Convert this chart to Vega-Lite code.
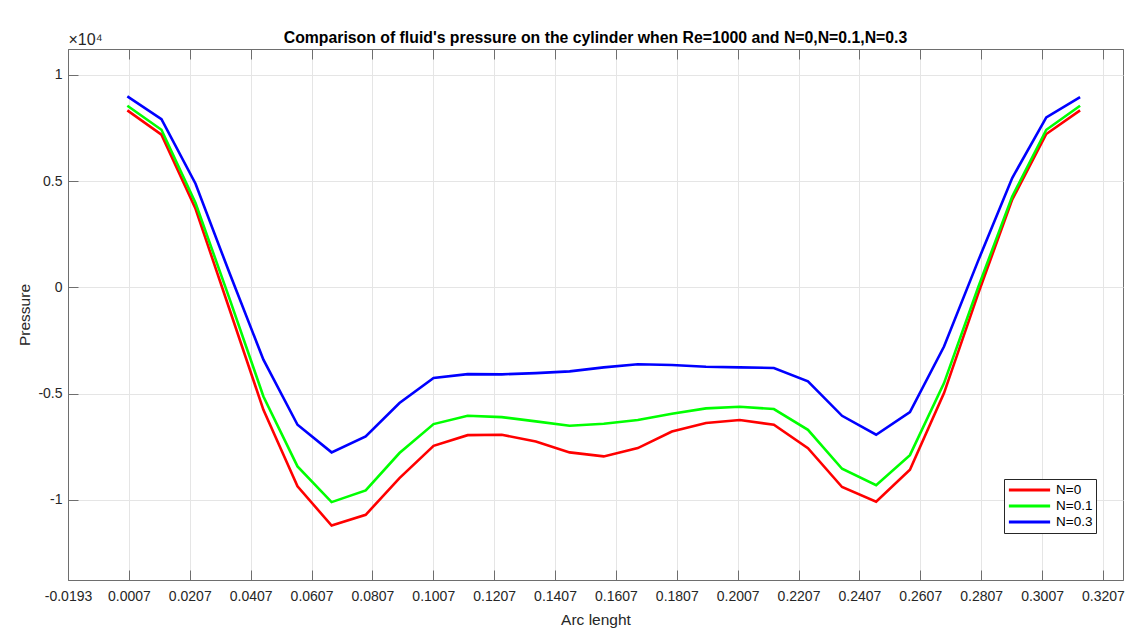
{
  "$schema": "https://vega.github.io/schema/vega-lite/v6.json",
  "autosize": {"type": "none"},
  "width": 1055,
  "height": 531,
  "padding": {"left": 68, "top": 49, "right": 2, "bottom": 50},
  "background": "white",
  "title": {
    "text": "Comparison of fluid's pressure on the cylinder when Re=1000 and N=0,N=0.1,N=0.3",
    "font": "Liberation Sans",
    "fontSize": 15.8,
    "fontWeight": "bold",
    "color": "#000000",
    "anchor": "middle",
    "offset": -16
  },
  "config": {
    "font": "Liberation Sans",
    "view": {"stroke": "#6e6e6e", "strokeWidth": 1},
    "axis": {
      "domainColor": "#6e6e6e",
      "tickColor": "#6e6e6e",
      "gridColor": "#e5e5e5",
      "labelColor": "#262626",
      "titleColor": "#262626",
      "labelFont": "Liberation Sans",
      "titleFont": "Liberation Sans",
      "labelFontSize": 14,
      "titleFontSize": 15.5,
      "titleFontWeight": "normal"
    }
  },
  "data": {
    "values": [
      {"s": "N=0", "x": 0.0002, "p": 8330},
      {"s": "N=0", "x": 0.0114, "p": 7190},
      {"s": "N=0", "x": 0.0226, "p": 3700},
      {"s": "N=0", "x": 0.0337, "p": -1000},
      {"s": "N=0", "x": 0.0449, "p": -5760},
      {"s": "N=0", "x": 0.0561, "p": -9360},
      {"s": "N=0", "x": 0.0673, "p": -11200},
      {"s": "N=0", "x": 0.0785, "p": -10700},
      {"s": "N=0", "x": 0.0896, "p": -8970},
      {"s": "N=0", "x": 0.1008, "p": -7450},
      {"s": "N=0", "x": 0.1120, "p": -6950},
      {"s": "N=0", "x": 0.1232, "p": -6930},
      {"s": "N=0", "x": 0.1344, "p": -7250},
      {"s": "N=0", "x": 0.1455, "p": -7760},
      {"s": "N=0", "x": 0.1567, "p": -7950},
      {"s": "N=0", "x": 0.1679, "p": -7560},
      {"s": "N=0", "x": 0.1791, "p": -6780},
      {"s": "N=0", "x": 0.1903, "p": -6380},
      {"s": "N=0", "x": 0.2014, "p": -6240},
      {"s": "N=0", "x": 0.2126, "p": -6460},
      {"s": "N=0", "x": 0.2238, "p": -7560},
      {"s": "N=0", "x": 0.2350, "p": -9390},
      {"s": "N=0", "x": 0.2462, "p": -10080},
      {"s": "N=0", "x": 0.2573, "p": -8580},
      {"s": "N=0", "x": 0.2685, "p": -4970},
      {"s": "N=0", "x": 0.2797, "p": -300},
      {"s": "N=0", "x": 0.2909, "p": 4130},
      {"s": "N=0", "x": 0.3021, "p": 7220},
      {"s": "N=0", "x": 0.3132, "p": 8330},
      {"s": "N=0.1", "x": 0.0002, "p": 8550},
      {"s": "N=0.1", "x": 0.0114, "p": 7420},
      {"s": "N=0.1", "x": 0.0226, "p": 3970},
      {"s": "N=0.1", "x": 0.0337, "p": -500},
      {"s": "N=0.1", "x": 0.0449, "p": -5130},
      {"s": "N=0.1", "x": 0.0561, "p": -8420},
      {"s": "N=0.1", "x": 0.0673, "p": -10100},
      {"s": "N=0.1", "x": 0.0785, "p": -9550},
      {"s": "N=0.1", "x": 0.0896, "p": -7790},
      {"s": "N=0.1", "x": 0.1008, "p": -6430},
      {"s": "N=0.1", "x": 0.1120, "p": -6040},
      {"s": "N=0.1", "x": 0.1232, "p": -6100},
      {"s": "N=0.1", "x": 0.1344, "p": -6300},
      {"s": "N=0.1", "x": 0.1455, "p": -6510},
      {"s": "N=0.1", "x": 0.1567, "p": -6410},
      {"s": "N=0.1", "x": 0.1679, "p": -6240},
      {"s": "N=0.1", "x": 0.1791, "p": -5940},
      {"s": "N=0.1", "x": 0.1903, "p": -5690},
      {"s": "N=0.1", "x": 0.2014, "p": -5610},
      {"s": "N=0.1", "x": 0.2126, "p": -5720},
      {"s": "N=0.1", "x": 0.2238, "p": -6700},
      {"s": "N=0.1", "x": 0.2350, "p": -8530},
      {"s": "N=0.1", "x": 0.2462, "p": -9300},
      {"s": "N=0.1", "x": 0.2573, "p": -7890},
      {"s": "N=0.1", "x": 0.2685, "p": -4500},
      {"s": "N=0.1", "x": 0.2797, "p": 0},
      {"s": "N=0.1", "x": 0.2909, "p": 4280},
      {"s": "N=0.1", "x": 0.3021, "p": 7420},
      {"s": "N=0.1", "x": 0.3132, "p": 8550},
      {"s": "N=0.3", "x": 0.0002, "p": 8990},
      {"s": "N=0.3", "x": 0.0114, "p": 7920},
      {"s": "N=0.3", "x": 0.0226, "p": 4880},
      {"s": "N=0.3", "x": 0.0337, "p": 700},
      {"s": "N=0.3", "x": 0.0449, "p": -3400},
      {"s": "N=0.3", "x": 0.0561, "p": -6460},
      {"s": "N=0.3", "x": 0.0673, "p": -7760},
      {"s": "N=0.3", "x": 0.0785, "p": -7010},
      {"s": "N=0.3", "x": 0.0896, "p": -5440},
      {"s": "N=0.3", "x": 0.1008, "p": -4260},
      {"s": "N=0.3", "x": 0.1120, "p": -4080},
      {"s": "N=0.3", "x": 0.1232, "p": -4090},
      {"s": "N=0.3", "x": 0.1344, "p": -4030},
      {"s": "N=0.3", "x": 0.1455, "p": -3950},
      {"s": "N=0.3", "x": 0.1567, "p": -3760},
      {"s": "N=0.3", "x": 0.1679, "p": -3610},
      {"s": "N=0.3", "x": 0.1791, "p": -3650},
      {"s": "N=0.3", "x": 0.1903, "p": -3730},
      {"s": "N=0.3", "x": 0.2014, "p": -3760},
      {"s": "N=0.3", "x": 0.2126, "p": -3790},
      {"s": "N=0.3", "x": 0.2238, "p": -4420},
      {"s": "N=0.3", "x": 0.2350, "p": -6040},
      {"s": "N=0.3", "x": 0.2462, "p": -6930},
      {"s": "N=0.3", "x": 0.2573, "p": -5860},
      {"s": "N=0.3", "x": 0.2685, "p": -2780},
      {"s": "N=0.3", "x": 0.2797, "p": 1250},
      {"s": "N=0.3", "x": 0.2909, "p": 5150},
      {"s": "N=0.3", "x": 0.3021, "p": 8000},
      {"s": "N=0.3", "x": 0.3132, "p": 8960}
    ]
  },
  "layer": [
    {
      "mark": {"type": "line", "strokeWidth": 2.6, "clip": true},
      "encoding": {
        "x": {
          "field": "x",
          "type": "quantitative",
          "scale": {"domain": [-0.0193, 0.3273], "nice": false, "zero": false},
          "axis": {
            "orient": "bottom",
            "title": "Arc lenght",
            "values": [-0.0193, 0.0007, 0.0207, 0.0407, 0.0607, 0.0807, 0.1007, 0.1207, 0.1407, 0.1607, 0.1807, 0.2007, 0.2207, 0.2407, 0.2607, 0.2807, 0.3007, 0.3207],
            "labelExpr": "replace(format(datum.value, '.4f'), '−', '-')",
            "tickSize": -10,
            "labelPadding": 19,
            "titlePadding": 9,
            "grid": true,
            "labelFlush": false,
            "labelOverlap": false
          }
        },
        "y": {
          "field": "p",
          "type": "quantitative",
          "scale": {"domain": [-13765, 11220], "nice": false, "zero": false},
          "axis": {
            "title": "Pressure",
            "values": [-10000, -5000, 0, 5000, 10000],
            "labelExpr": "datum.value / 10000",
            "tickSize": -10,
            "labelPadding": 16,
            "titlePadding": 5,
            "grid": true,
            "labelFlush": false
          }
        },
        "color": {
          "field": "s",
          "type": "nominal",
          "scale": {"domain": ["N=0", "N=0.1", "N=0.3"], "range": ["#ff0000", "#00ff00", "#0000ff"]},
          "legend": {
            "title": null,
            "orient": "none",
            "legendX": 936,
            "legendY": 430,
            "symbolType": "stroke",
            "symbolSize": 1700,
            "symbolStrokeWidth": 3,
            "clipHeight": 16,
            "rowPadding": 0,
            "labelFontSize": 13.5,
            "labelColor": "#000000",
            "labelFont": "Liberation Sans",
            "labelOffset": 4,
            "strokeColor": "#262626",
            "fillColor": "#ffffff",
            "padding": 3
          }
        }
      }
    },
    {
      "mark": {"type": "line", "strokeOpacity": 0},
      "encoding": {
        "x": {
          "field": "x",
          "type": "quantitative",
          "axis": {
            "orient": "top",
            "title": "×10⁴",
            "titleAnchor": "start",
            "titleAlign": "left",
            "titleBaseline": "alphabetic",
            "titleX": 0,
            "titleY": -5,
            "titleFontSize": 16,
            "values": [-0.0193, 0.0007, 0.0207, 0.0407, 0.0607, 0.0807, 0.1007, 0.1207, 0.1407, 0.1607, 0.1807, 0.2007, 0.2207, 0.2407, 0.2607, 0.2807, 0.3007, 0.3207],
            "labels": false,
            "tickSize": -10,
            "grid": false
          }
        },
        "y": {"field": "p", "type": "quantitative"},
        "detail": {"field": "s"}
      }
    }
  ],
  "resolve": {"axis": {"x": "independent"}}
}
